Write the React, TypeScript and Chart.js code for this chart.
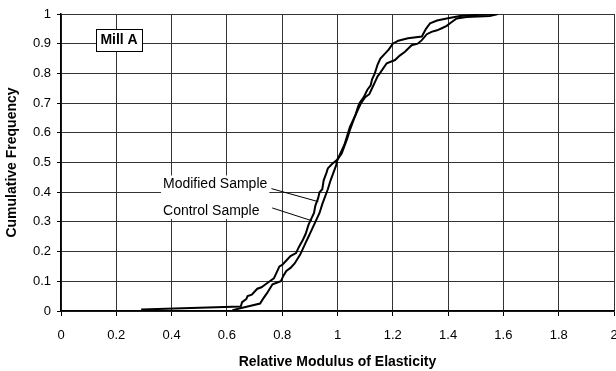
import React, { useEffect, useRef } from "react";
import { Chart, registerables } from "chart.js";

Chart.register(...registerables);

// ---- Data ----
const xTickValues = [0, 0.2, 0.4, 0.6, 0.8, 1, 1.2, 1.4, 1.6, 1.8, 2];
const xTickLabels = ["0", "0.2", "0.4", "0.6", "0.8", "1", "1.2", "1.4", "1.6", "1.8", "2"];
const yTickValues = [0, 0.1, 0.2, 0.3, 0.4, 0.5, 0.6, 0.7, 0.8, 0.9, 1];
const yTickLabels = ["0", "0.1", "0.2", "0.3", "0.4", "0.5", "0.6", "0.7", "0.8", "0.9", "1"];

const modifiedX = [
  0.29, 0.65, 0.655, 0.67, 0.675, 0.69, 0.71, 0.725, 0.74, 0.755, 0.77, 0.78, 0.79, 0.8, 0.815,
  0.83, 0.85, 0.86, 0.875, 0.885, 0.895, 0.905, 0.915, 0.92, 0.93, 0.935, 0.945, 0.95, 0.96, 0.965,
  0.98, 1.0, 1.01, 1.025, 1.035, 1.045, 1.055, 1.065, 1.075, 1.085, 1.1, 1.115, 1.125, 1.135,
  1.145, 1.153, 1.178, 1.208, 1.225, 1.244, 1.268, 1.29, 1.305, 1.323, 1.34, 1.36, 1.377, 1.395,
  1.407, 1.431, 1.467, 1.551, 1.576, 1.58,
];
const modifiedY = [
  0.005, 0.015, 0.03, 0.04, 0.05, 0.055, 0.075, 0.08, 0.09, 0.1, 0.11, 0.13, 0.15, 0.155, 0.17,
  0.185, 0.195, 0.215, 0.24, 0.26, 0.29, 0.31, 0.33, 0.355, 0.38, 0.4, 0.41, 0.44, 0.465, 0.48,
  0.495, 0.51, 0.53, 0.56, 0.59, 0.62, 0.64, 0.66, 0.68, 0.7, 0.72, 0.73, 0.75, 0.77,
  0.79, 0.8, 0.834, 0.845, 0.86, 0.873, 0.895, 0.9, 0.912, 0.932, 0.94, 0.945, 0.952, 0.96,
  0.969, 0.985, 0.99, 0.993, 0.999, 1.0,
];

const controlX = [
  0.62, 0.66, 0.72, 0.73, 0.745, 0.755, 0.765, 0.78, 0.795, 0.805, 0.815, 0.83, 0.845, 0.855,
  0.865, 0.875, 0.885, 0.895, 0.905, 0.915, 0.925, 0.935, 0.945, 0.955, 0.965, 0.975, 0.985, 0.995,
  1.0, 1.015, 1.025, 1.035, 1.045, 1.055, 1.065, 1.075, 1.08, 1.095, 1.108, 1.12, 1.125, 1.135,
  1.145, 1.155, 1.17, 1.185, 1.2, 1.22, 1.255, 1.305, 1.32, 1.335, 1.36, 1.395, 1.443, 1.5, 1.58,
];
const controlY = [
  0.003, 0.012, 0.025, 0.04, 0.06, 0.075, 0.09, 0.095, 0.1, 0.12, 0.135, 0.145, 0.16, 0.175,
  0.19, 0.21, 0.23, 0.25, 0.27, 0.29, 0.31, 0.33, 0.36, 0.385, 0.41, 0.44, 0.465, 0.49,
  0.51, 0.53, 0.555, 0.58, 0.61, 0.635, 0.66, 0.69, 0.7, 0.72, 0.745, 0.76, 0.78, 0.8,
  0.83, 0.85, 0.865, 0.88, 0.9, 0.91, 0.918, 0.924, 0.95, 0.969, 0.978, 0.985, 0.993, 0.997, 1.0,
];

const seriesNames = ["Modified Sample", "Control Sample"];
const boxLabel = "Mill A";
const xTitle = "Relative Modulus of Elasticity";
const yTitle = "Cumulative Frequency";

const FONT = '"Liberation Sans", Arial, sans-serif';

// annotation placement (in data units)
const ANNOT = {
  mill: { cx: 0.21, cy: 0.9115, left: 0.1255, right: 0.294, top: 0.9485, bottom: 0.875 },
  modText: { x: 0.369, y: 0.426 },
  ctlText: { x: 0.369, y: 0.337 },
  modLeader: [0.761, 0.412, 0.931, 0.368],
  ctlLeader: [0.764, 0.347, 0.907, 0.304],
};

const annotPlugin = {
  id: "annots",
  afterDatasetsDraw(chart: any) {
    const { ctx, scales } = chart;
    const x = scales.x;
    const y = scales.y;
    const px = (v: number) => x.getPixelForValue(v);
    const py = (v: number) => y.getPixelForValue(v);
    ctx.save();
    // Mill A box
    const m = ANNOT.mill;
    const l = Math.round(px(m.left)) + 0.5;
    const r = Math.round(px(m.right)) + 0.5;
    const t = Math.round(py(m.top)) + 0.5;
    const b = Math.round(py(m.bottom)) + 0.5;
    ctx.fillStyle = "#fff";
    ctx.fillRect(l, t, r - l, b - t);
    ctx.strokeStyle = "#000";
    ctx.lineWidth = 1;
    ctx.strokeRect(l, t, r - l, b - t);
    ctx.fillStyle = "#000";
    ctx.font = `bold 14px ${FONT}`;
    ctx.textAlign = "center";
    ctx.textBaseline = "middle";
    ctx.fillText(boxLabel, px(m.cx), py(m.cy));

    // series labels (one shared white background)
    ctx.font = `14px ${FONT}`;
    ctx.textAlign = "left";
    const labels = [
      { text: seriesNames[0], pos: ANNOT.modText },
      { text: seriesNames[1], pos: ANNOT.ctlText },
    ];
    const widths = labels.map((lb) => ctx.measureText(lb.text).width);
    const lx = px(ANNOT.modText.x);
    const topY = py(ANNOT.modText.y) - 9;
    const botY = py(ANNOT.ctlText.y) + 8;
    ctx.fillStyle = "#fff";
    ctx.fillRect(lx - 2, topY, Math.max(...widths) + 4, botY - topY);
    ctx.fillStyle = "#000";
    labels.forEach(({ text, pos }) => {
      ctx.fillText(text, px(pos.x), py(pos.y));
    });

    // leader lines
    ctx.strokeStyle = "#000";
    ctx.lineWidth = 1;
    [ANNOT.modLeader, ANNOT.ctlLeader].forEach((ld) => {
      ctx.beginPath();
      ctx.moveTo(px(ld[0]), py(ld[1]));
      ctx.lineTo(px(ld[2]), py(ld[3]));
      ctx.stroke();
    });
    ctx.restore();
  },
};

const bgPlugin = {
  id: "bg",
  beforeDraw(chart: any) {
    const { ctx, width, height } = chart;
    ctx.save();
    ctx.fillStyle = "#fff";
    ctx.fillRect(0, 0, width, height);
    ctx.restore();
  },
};

export default function App() {
  const ref = useRef<HTMLCanvasElement | null>(null);

  useEffect(() => {
    if (!ref.current) return;
    const toPts = (xs: number[], ys: number[]) => xs.map((v, i) => ({ x: v, y: ys[i] }));
    const chart = new Chart(ref.current, {
      type: "scatter",
      data: {
        datasets: [
          {
            label: seriesNames[0],
            data: toPts(modifiedX, modifiedY),
            showLine: true,
            borderColor: "#000",
            borderWidth: 2,
            pointRadius: 0,
            tension: 0,
          },
          {
            label: seriesNames[1],
            data: toPts(controlX, controlY),
            showLine: true,
            borderColor: "#000",
            borderWidth: 2,
            pointRadius: 0,
            tension: 0,
          },
        ],
      },
      options: {
        responsive: false,
        animation: false,
        events: [],
        layout: { padding: { left: 0, right: 2, top: 14, bottom: 0 } },
        plugins: {
          legend: { display: false },
          tooltip: { enabled: false },
        },
        scales: {
          x: {
            type: "linear",
            min: 0,
            max: 2,
            afterBuildTicks: (s: any) => {
              s.ticks = xTickValues.map((v) => ({ value: v }));
            },
            afterFit: (s: any) => {
              s.height = 60;
              s.paddingLeft = 0;
              s.paddingRight = 0;
            },
            ticks: {
              color: "#000",
              font: { family: FONT, size: 13 },
              padding: 12,
              maxRotation: 0,
              autoSkip: false,
              callback: (_v: any, i: number) => xTickLabels[i],
            },
            grid: { color: "#333", lineWidth: 1, tickLength: 5, drawTicks: true, tickColor: "#000" },
            border: { color: "#000", width: 1.5 },
            title: {
              display: true,
              text: xTitle,
              color: "#000",
              font: { family: FONT, size: 14, weight: "bold" },
              padding: { top: 0, bottom: 0 },
            },
          },
          y: {
            type: "linear",
            min: 0,
            max: 1,
            afterBuildTicks: (s: any) => {
              s.ticks = yTickValues.map((v) => ({ value: v }));
            },
            afterFit: (s: any) => {
              s.width = 61;
              s.paddingTop = 0;
              s.paddingBottom = 0;
            },
            ticks: {
              color: "#000",
              font: { family: FONT, size: 13 },
              padding: 6,
              autoSkip: false,
              callback: (_v: any, i: number) => yTickLabels[i],
            },
            grid: { color: "#333", lineWidth: 1, tickLength: 4, drawTicks: true, tickColor: "#000" },
            border: { color: "#000", width: 1.5 },
            title: {
              display: true,
              text: yTitle,
              color: "#000",
              font: { family: FONT, size: 14, weight: "bold" },
              padding: { top: 4, bottom: 0 },
            },
          },
        },
      },
      plugins: [bgPlugin, annotPlugin],
    });
    return () => chart.destroy();
  }, []);

  return (
    <div style={{ position: "absolute", left: 0, top: 0, width: 616, height: 371 }}>
      <canvas ref={ref} width={616} height={371} style={{ display: "block" }} />
    </div>
  );
}
